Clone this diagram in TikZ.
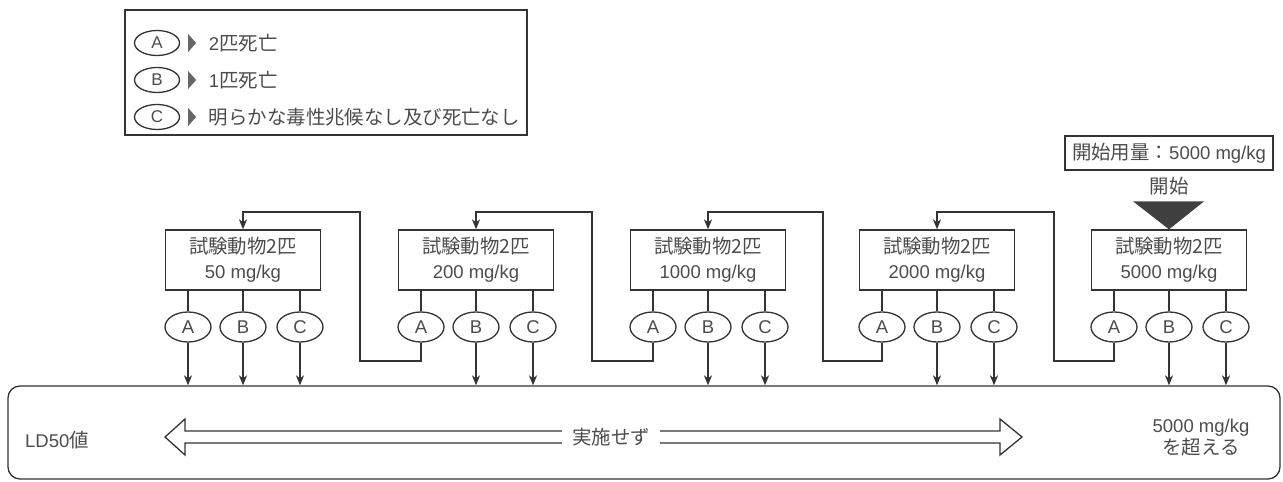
\documentclass[tikz,border=0pt]{standalone}
\usepackage{fontspec}
\setmainfont{Liberation Sans}
\newfontfamily\jp[Scale=1.05]{Noto Sans CJK JP}
\usetikzlibrary{arrows.meta,shapes.geometric}

\begin{document}
\begin{tikzpicture}[x=1pt,y=1pt,line width=1.3pt,color=black!80,
  every node/.style={font=\fontsize{18.5}{25}\selectfont,text=black!70},
  dose/.style={draw,minimum width=155pt,minimum height=60pt,align=center,inner sep=0pt},
  res/.style={draw,ellipse,minimum width=46pt,minimum height=30pt,inner sep=0pt},
  key/.style={draw,ellipse,minimum width=45pt,minimum height=25pt,inner sep=0pt,
    font=\fontsize{17}{18}\selectfont},
  flow/.style={-{Stealth[length=10pt,width=8pt,inset=3pt]}}]
\path[use as bounding box] (0,0) rectangle (1283,482);
% legend
\draw (125,347) rectangle (527,472);
\node[key] (kA) at (157,439) {A};
\node[key] (kB) at (157,402) {B};
\node[key] (kC) at (157,365) {C};
\foreach \k in {kA,kB,kC}
  \fill[black!60] ([xshift=8pt]\k.east) -- ++(0,9) -- ++(8,-9) -- ++(-8,-9) -- cycle;
\node[anchor=west] (tA) at (205,439) {2{\jp 匹死亡}};
\node[anchor=west] (tB) at (205,402) {1{\jp 匹死亡}};
\node[anchor=west] (tC) at (205,365) {{\jp 明らかな毒性兆候なし及び死亡なし}};
% result box
\node[draw,rounded corners=12pt,minimum width=1272pt,minimum height=93pt] (ld) at (644,49.5) {};
\node (ldv) at (57,42) {LD50{\jp 値}};
\node[align=center,font=\fontsize{18.5}{22}\selectfont] (over) at (1201,44) {5000 mg/kg\\{\jp を超える}};
\draw (185,51) -- (1000,51) -- (1000,63) -- (1022,45) -- (1000,27) -- (1000,39)
  -- (185,39) -- (185,27) -- (165,45) -- (185,63) -- cycle;
\node[fill=white,inner xsep=10pt] (skip) at (611,45) {{\jp 実施せず}};
% doses
\foreach \i/\x/\d in {1/243/50,2/476/200,3/708/1000,4/937/2000,5/1169/5000} {
  \node[dose] (b\i) at (\x,222) {{\jp 試験動物2匹}\\\d\ mg/kg};
  \foreach \r/\dx in {A/-55,B/0,C/57} {
    \node[res] (b\i\r) at (\x+\dx,155) {\r};
    \draw (b\i\r.north |- b\i.south) -- (b\i\r.north);
  }
  \draw[flow] (b\i B.south) -- (b\i B.south |- ld.north);
  \draw[flow] (b\i C.south) -- (b\i C.south |- ld.north);
}
\draw[flow] (b1A.south) -- (b1A.south |- ld.north);
\foreach \i/\j/\mx in {1/2/360,2/3/592,3/4/823,4/5/1054}
  \draw[flow] (b\j A.south) |- (\mx,121) |- (b\i.north |- 0,270) -- (b\i.north);
% start
\node[draw,minimum width=208pt,minimum height=34pt,inner sep=2pt] (start) at (1169,329)
  {{\jp 開始用量：}5000 mg/kg};
\node (go) at (1169,296) {{\jp 開始}};
\fill[black!75] (b5.north) -- ++(-36,28) -- ++(71,0) -- cycle;
\end{tikzpicture}
\end{document}
